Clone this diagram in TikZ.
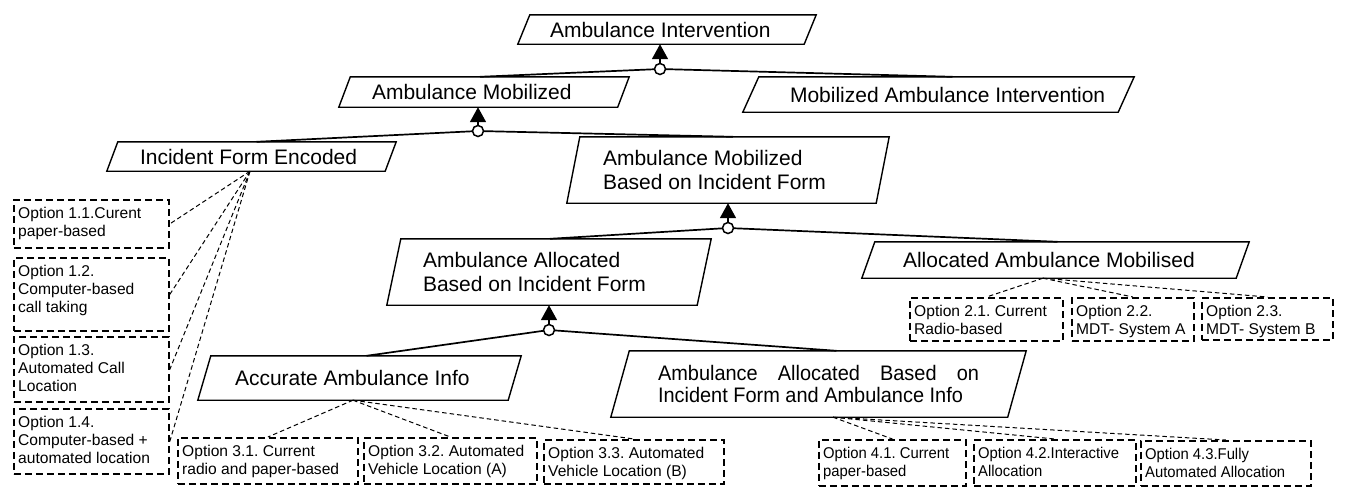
\documentclass[tikz,border=0pt]{standalone}
\usepackage{fontspec}
\setmainfont{Liberation Sans}
\newfontfamily\condfont[FakeStretch=0.95]{Liberation Sans}
\usetikzlibrary{arrows.meta,calc}
\newcommand\goalshape[2]{\draw[gline] ($(#1.north west)+(#2,0)$) -- (#1.north east) -- ($(#1.south east)+(-#2,0)$) -- (#1.south west) -- cycle;}
\frenchspacing
\begin{document}
\begin{tikzpicture}[x=1pt,y=-1pt,
  gbox/.style={shape=rectangle, draw=none, inner sep=0pt},
  gtext/.style={anchor=west, inner sep=0pt, align=left, font=\fontsize{21}{24}\selectfont},
  gline/.style={line width=1.4pt, line join=miter},
  andline/.style={line width=1.7pt},
  junc/.style={circle, draw, fill=white, line width=1.5pt, minimum size=11pt, inner sep=0pt},
  uparrow/.style={line width=1.7pt, -{Triangle[width=16pt,length=15pt]}},
  optbox/.style={draw, dash pattern=on 7pt off 4pt, line width=1.8pt, inner sep=0pt, anchor=north west},
  opttext/.style={inner sep=0pt, anchor=north west, align=left, font=\fontsize{15.6}{18}\selectfont},
  optlink/.style={line width=1pt, dash pattern=on 4.5pt off 3pt},
]
\useasboundingbox (0,0) rectangle (1360,499);

% ---------- goal boxes ----------
\node[gbox, minimum width=298, minimum height=29] (g1) at (667,29.5) {};
\node[gtext] (g1t) at ($(g1.west)+(32,0)$) {Ambulance Intervention};
\goalshape{g1}{12}

\node[gbox, minimum width=290, minimum height=30] (g2) at (484,92) {};
\node[gtext] (g2t) at ($(g2.west)+(33,0)$) {Ambulance Mobilized};
\goalshape{g2}{11.5}

\node[gbox, minimum width=391, minimum height=35] (g3) at (938.5,94.5) {};
\node[gtext] (g3t) at ($(g3.west)+(47,0)$) {Mobilized Ambulance Intervention};
\goalshape{g3}{16}

\node[gbox, minimum width=289, minimum height=29] (g4) at (251.5,156.5) {};
\node[gtext] (g4t) at ($(g4.west)+(33,0)$) {Incident Form Encoded};
\goalshape{g4}{11}

\node[gbox, minimum width=322, minimum height=66] (g5) at (728,170) {};
\node[gtext] (g5t) at ($(g5.west)+(36,0)$) {Ambulance Mobilized\\Based on Incident Form};
\goalshape{g5}{13}

\node[gbox, minimum width=324, minimum height=66] (g6) at (549,272) {};
\node[gtext] (g6t) at ($(g6.west)+(36,0)$) {Ambulance Allocated\\Based on Incident Form};
\goalshape{g6}{14}

\node[gbox, minimum width=387, minimum height=36] (g7) at (1055.5,260) {};
\node[gtext] (g7t) at ($(g7.west)+(41,0)$) {Allocated Ambulance Mobilised};
\goalshape{g7}{13}

\node[gbox, minimum width=323, minimum height=44] (g8) at (359.5,378) {};
\node[gtext] (g8t) at ($(g8.west)+(37,0)$) {Accurate Ambulance Info};
\goalshape{g8}{13}

\node[gbox, minimum width=415, minimum height=66] (g9) at (818.5,384) {};
\node[gtext, font=\condfont\fontsize{21}{22.5}\selectfont] (g9t) at ($(g9.west)+(47,0)$) {\makebox[321pt][s]{Ambulance Allocated Based on}\\Incident Form and Ambulance Info};
\goalshape{g9}{18.5}

% ---------- option boxes ----------
\node[optbox, minimum width=155, minimum height=48] (o11) at (13,199) {};
\node[optbox, minimum width=155, minimum height=73] (o12) at (13,257) {};
\node[optbox, minimum width=155, minimum height=65] (o13) at (13,336) {};
\node[optbox, minimum width=155, minimum height=65] (o14) at (13,408) {};
\node[optbox, minimum width=153, minimum height=43] (o21) at (909,297) {};
\node[optbox, minimum width=122, minimum height=43] (o22) at (1071,297) {};
\node[optbox, minimum width=131, minimum height=42] (o23) at (1201,297) {};
\node[optbox, minimum width=180, minimum height=46] (o31) at (177,437) {};
\node[optbox, minimum width=173, minimum height=46] (o32) at (363,437) {};
\node[optbox, minimum width=180, minimum height=44] (o33) at (543,439) {};
\node[optbox, minimum width=147, minimum height=46] (o41) at (818,439) {};
\node[optbox, minimum width=162, minimum height=46] (o42) at (973,439) {};
\node[optbox, minimum width=170, minimum height=45] (o43) at (1140,440) {};

\node[opttext] (o11t) at ($(o11.north west)+(5,6)$) {\rule{0pt}{13pt}Option 1.1.Curent\\paper-based};
\node[opttext] (o12t) at ($(o12.north west)+(5,6)$) {\rule{0pt}{13pt}Option 1.2.\\Computer-based\\call taking};
\node[opttext] (o13t) at ($(o13.north west)+(5,6)$) {\rule{0pt}{13pt}Option 1.3.\\Automated Call\\Location};
\node[opttext] (o14t) at ($(o14.north west)+(5,6)$) {\rule{0pt}{13pt}Option 1.4.\\Computer-based +\\automated location};
\node[opttext] (o21t) at ($(o21.north west)+(5,6)$) {\rule{0pt}{13pt}Option 2.1. Current\\Radio-based};
\node[opttext] (o22t) at ($(o22.north west)+(5,6)$) {\rule{0pt}{13pt}Option 2.2.\\MDT- System A};
\node[opttext] (o23t) at ($(o23.north west)+(5,6)$) {\rule{0pt}{13pt}Option 2.3.\\MDT- System B};
\node[opttext] (o31t) at ($(o31.north west)+(5,6)$) {\rule{0pt}{13pt}Option 3.1. Current\\radio and paper-based};
\node[opttext] (o32t) at ($(o32.north west)+(5,6)$) {\rule{0pt}{13pt}Option 3.2. Automated\\Vehicle Location (A)};
\node[opttext] (o33t) at ($(o33.north west)+(5,6)$) {\rule{0pt}{13pt}Option 3.3. Automated\\Vehicle Location (B)};
\node[opttext, font=\condfont\fontsize{15.6}{18}\selectfont] (o41t) at ($(o41.north west)+(5,6)$) {\rule{0pt}{13pt}Option 4.1. Current\\paper-based};
\node[opttext, font=\condfont\fontsize{15.6}{18}\selectfont] (o42t) at ($(o42.north west)+(5,6)$) {\rule{0pt}{13pt}Option 4.2.Interactive\\Allocation};
\node[opttext, font=\condfont\fontsize{15.6}{18}\selectfont] (o43t) at ($(o43.north west)+(5,6)$) {\rule{0pt}{13pt}Option 4.3.Fully\\Automated Allocation};

% ---------- option links ----------
\foreach \o in {o11,o12,o13,o14} \draw[optlink] ($(g4.south)+(-1.5,0)$) -- (\o.east);
\foreach \o in {o21,o22,o23} \draw[optlink] ($(g7.south)+(-12.5,0)$) -- (\o.north);
\foreach \o in {o31,o32,o33} \draw[optlink] ($(g8.south)+(-6.5,0)$) -- (\o.north);
\foreach \o in {o41,o42,o43} \draw[optlink] ($(g9.south)+(14.5,0)$) -- (\o.north);

% ---------- AND refinements ----------
\coordinate (j1c) at (660,69);
\coordinate (j2c) at (478,131);
\coordinate (j3c) at (728,228);
\coordinate (j4c) at (549,330);

\draw[andline] ($(g2.north)+(-4,0)$) -- (j1c) -- ($(g3.north)+(14,0)$);
\draw[andline] ($(g4.north)+(5,0)$) -- (j2c) -- ($(g5.north)+(5,0)$);
\draw[andline] ($(g6.north)+(1,0)$) -- (j3c) -- ($(g7.north)+(2,0)$);
\draw[andline] ($(g8.north)+(7,0)$) -- (j4c) -- ($(g9.north)+(18,0)$);

\node[junc] (j1) at (j1c) {};
\node[junc] (j2) at (j2c) {};
\node[junc] (j3) at (j3c) {};
\node[junc] (j4) at (j4c) {};

\draw[uparrow] (j1.north) -- (j1.north |- g1.south);
\draw[uparrow] (j2.north) -- (j2.north |- g2.south);
\draw[uparrow] (j3.north) -- (j3.north |- g5.south);
\draw[uparrow] (j4.north) -- (j4.north |- g6.south);
\end{tikzpicture}
\end{document}
